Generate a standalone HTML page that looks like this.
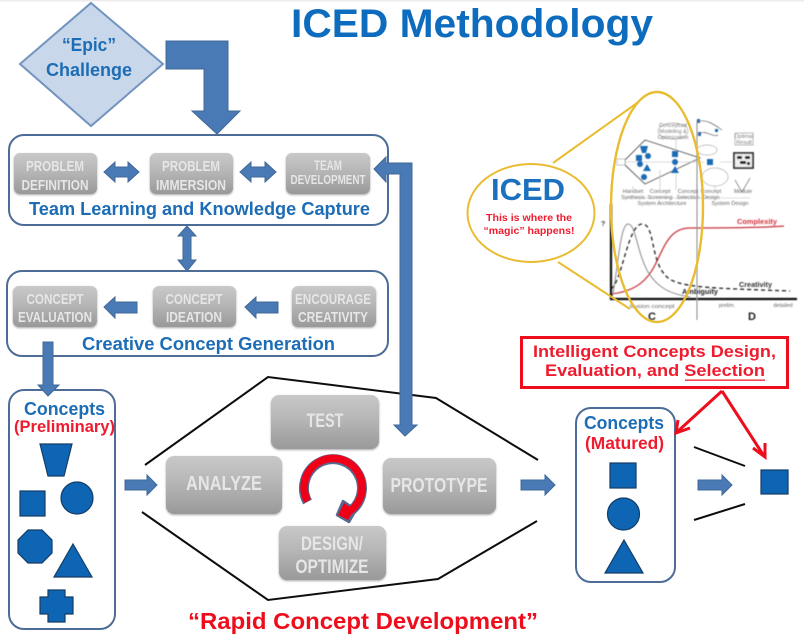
<!DOCTYPE html>
<html><head><meta charset="utf-8"><title>ICED Methodology</title>
<style>
html,body{margin:0;padding:0;background:#fff}
svg{display:block;width:804px;height:639px}
text{font-family:"Liberation Sans",sans-serif;font-weight:700}
.b{fill:#1f6db5}
.r{fill:#ee1c2e}
.g{fill:#e6e6e6;font-weight:700;text-anchor:middle}
.s{fill:#0f65b4;stroke:#123c66;stroke-width:1.2}
.box{fill:#fff;stroke:#4d6d98;stroke-width:2}
.ar{fill:#4a7ab5;stroke:#3f6797;stroke-width:1}
.bl{fill:none;stroke:#111;stroke-width:2}
.t{font-size:5.5px;font-weight:400;fill:#666;text-anchor:middle}
.rl{fill:none;stroke:#ee0f1f;stroke-width:3}
</style></head><body>
<svg xmlns="http://www.w3.org/2000/svg" viewBox="0 0 804 639" width="804" height="639">
<defs>
<linearGradient id="gr" x1="0" y1="0" x2="0" y2="1"><stop offset="0" stop-color="#c8c8c8"/><stop offset=".45" stop-color="#b6b6b6"/><stop offset="1" stop-color="#999"/></linearGradient>
<filter id="sh" x="-10%" y="-10%" width="120%" height="125%"><feGaussianBlur in="SourceAlpha" stdDeviation="1"/><feOffset dy="1"/><feComponentTransfer><feFuncA type="linear" slope=".35"/></feComponentTransfer><feMerge><feMergeNode/><feMergeNode in="SourceGraphic"/></feMerge></filter>
<filter id="bl"><feGaussianBlur stdDeviation=".55"/></filter>
<filter id="bl2"><feGaussianBlur stdDeviation=".3"/></filter>
</defs>
<rect width="804" height="639" fill="#fff"/>
<rect width="804" height="1.5" fill="#ececec"/>
<g filter="url(#bl2)">
<text x="291" y="37" font-size="40" fill="#0f6cbd" textLength="362" lengthAdjust="spacingAndGlyphs">ICED Methodology</text>

<polygon points="91,3 163,64 91,126 20,64" fill="#c9d7ea" stroke="#7394bf" stroke-width="2"/>
<text x="89" y="51" font-size="18" class="b" text-anchor="middle" textLength="54" lengthAdjust="spacingAndGlyphs">“Epic”</text>
<text x="89" y="76" font-size="18" class="b" text-anchor="middle" textLength="86" lengthAdjust="spacingAndGlyphs">Challenge</text>
<polygon class="ar" points="166,41 228,41 228,111 240,111 217,134 192,111 204,111 204,69 166,69"/>

<rect class="box" x="9" y="135" width="379" height="90" rx="15"/>
<rect class="box" x="7" y="271" width="381" height="85" rx="15"/>
<g filter="url(#sh)" fill="url(#gr)">
<rect x="14" y="153" width="83" height="41" rx="6"/><rect x="150" y="153" width="83" height="41" rx="6"/><rect x="286" y="153" width="84" height="41" rx="6"/>
<rect x="13" y="286" width="84" height="41" rx="6"/><rect x="153" y="286" width="83" height="41" rx="6"/><rect x="292" y="286" width="84" height="41" rx="6"/>
<rect x="271" y="395" width="108" height="54" rx="8"/><rect x="166" y="456" width="116" height="58" rx="8"/><rect x="383" y="458" width="113" height="56" rx="8"/><rect x="279" y="526" width="107" height="54" rx="8"/>
</g>
<text class="g" x="55" y="171" font-size="15" textLength="58" lengthAdjust="spacingAndGlyphs">PROBLEM</text>
<text class="g" x="55" y="190" font-size="15" textLength="67" lengthAdjust="spacingAndGlyphs">DEFINITION</text>
<text class="g" x="191" y="171" font-size="15" textLength="58" lengthAdjust="spacingAndGlyphs">PROBLEM</text>
<text class="g" x="191" y="190" font-size="15" textLength="70" lengthAdjust="spacingAndGlyphs">IMMERSION</text>
<text class="g" x="328" y="170" font-size="13.5" textLength="28" lengthAdjust="spacingAndGlyphs">TEAM</text>
<text class="g" x="328" y="184" font-size="12.5" textLength="75" lengthAdjust="spacingAndGlyphs">DEVELOPMENT</text>
<text class="g" x="55" y="304" font-size="15" textLength="57" lengthAdjust="spacingAndGlyphs">CONCEPT</text>
<text class="g" x="55" y="322" font-size="15" textLength="74" lengthAdjust="spacingAndGlyphs">EVALUATION</text>
<text class="g" x="194" y="304" font-size="15" textLength="57" lengthAdjust="spacingAndGlyphs">CONCEPT</text>
<text class="g" x="194" y="322" font-size="15" textLength="56" lengthAdjust="spacingAndGlyphs">IDEATION</text>
<text class="g" x="333" y="304" font-size="15" textLength="76" lengthAdjust="spacingAndGlyphs">ENCOURAGE</text>
<text class="g" x="333" y="322" font-size="15" textLength="70" lengthAdjust="spacingAndGlyphs">CREATIVITY</text>
<text class="g" x="325" y="427" font-size="19" textLength="37" lengthAdjust="spacingAndGlyphs">TEST</text>
<text class="g" x="224" y="490" font-size="20.5" textLength="76" lengthAdjust="spacingAndGlyphs">ANALYZE</text>
<text class="g" x="439" y="492" font-size="20" textLength="97" lengthAdjust="spacingAndGlyphs">PROTOTYPE</text>
<text class="g" x="332" y="550" font-size="19" textLength="62" lengthAdjust="spacingAndGlyphs">DESIGN/</text>
<text class="g" x="332" y="573" font-size="19" textLength="73" lengthAdjust="spacingAndGlyphs">OPTIMIZE</text>

<polygon class="ar" points="104,172 115,162 115,167 128,167 128,162 139,172 128,182 128,177 115,177 115,182"/>
<polygon class="ar" points="240,172 251,162 251,167 265,167 265,162 276,172 265,182 265,177 251,177 251,182"/>
<text x="29" y="215" font-size="18" class="b" textLength="341" lengthAdjust="spacingAndGlyphs">Team Learning and Knowledge Capture</text>

<polygon class="ar" points="187,226 196,236 191,236 191,260 196,260 187,271 178,260 183,260 183,236 178,236"/>

<polygon class="ar" points="104,307 115,297 115,302 137,302 137,313 115,313 115,318"/>
<polygon class="ar" points="245,307 256,297 256,302 278,302 278,313 256,313 256,318"/>
<text x="82" y="350" font-size="18" class="b" textLength="253" lengthAdjust="spacingAndGlyphs">Creative Concept Generation</text>

<rect class="box" x="9" y="390" width="106" height="239" rx="15"/>
<polygon class="ar" points="43,342 53,342 53,385 59,385 48,396 38,385 43,385"/>
<text x="24" y="415" font-size="18" class="b" textLength="81" lengthAdjust="spacingAndGlyphs">Concepts</text>
<text x="14" y="432" font-size="16.5" class="r" textLength="101" lengthAdjust="spacingAndGlyphs">(Preliminary)</text>
<polygon class="s" points="40,444 72,444 64,476 48,476"/>
<rect class="s" x="20" y="491" width="25" height="25"/>
<circle class="s" cx="77" cy="498" r="16"/>
<polygon class="s" points="28,530 42,530 52,540 52,553 42,563 28,563 18,553 18,540"/>
<polygon class="s" points="73,544 92,577 54,577"/>
<polygon class="s" points="48,590 65,590 65,597 73,597 73,614 65,614 65,622 48,622 48,614 40,614 40,597 48,597"/>

<polygon class="ar" points="125,480 147,480 147,475 157,485 147,495 147,490 125,490"/>

<polyline class="bl" points="145,465 268,377 436,398 538,460"/>
<polyline class="bl" points="142,512 268,600 438,579 537,521"/>

<path d="M307.5,502 A29,29 0 1 1 352,510" fill="none" stroke="#56698e" stroke-width="10"/>
<polygon points="337,515 343,501 356,510 349,522" fill="#56698e" stroke="#56698e" stroke-width="2.5" stroke-linejoin="round"/>
<path d="M307.5,501 A29,29 0 1 1 350,511" fill="none" stroke="#f00018" stroke-width="7.5"/>
<polygon points="338,515 344,503 354,510 348,520" fill="#f00018"/>

<polygon class="ar" points="374,169 386,157 386,163 412,163 412,425 417,425 405,436 394,425 400,425 400,174 386,174 386,182"/>

<polygon class="ar" points="521,480 545,480 545,475 555,485 545,495 545,490 521,490"/>
<rect class="box" x="576" y="408" width="99" height="174" rx="15"/>
<text x="584" y="429" font-size="18" class="b" textLength="80" lengthAdjust="spacingAndGlyphs">Concepts</text>
<text x="585" y="449" font-size="17.5" class="r" textLength="79" lengthAdjust="spacingAndGlyphs">(Matured)</text>
<rect class="s" x="610" y="463" width="26" height="25"/>
<circle class="s" cx="623.5" cy="514" r="16"/>
<polygon class="s" points="624,540 643,573 605,573"/>
<polygon class="ar" points="698,480 722,480 722,475 732,485 722,495 722,490 698,490"/>
<line class="bl" x1="694" y1="447" x2="745" y2="466"/>
<line class="bl" x1="694" y1="520" x2="745" y2="504"/>
<rect class="s" x="761" y="470" width="27" height="24"/>

<rect x="521.5" y="337.5" width="266" height="50" fill="#fff" stroke="#ee0f1f" stroke-width="3"/>
<text x="533" y="357" font-size="16.5" class="r" textLength="243" lengthAdjust="spacingAndGlyphs">Intelligent Concepts Design,</text>
<text x="545" y="376" font-size="16.5" class="r" textLength="220" lengthAdjust="spacingAndGlyphs">Evaluation, and Selection</text>
<rect x="685" y="379.5" width="80" height="1.3" fill="#ee1c2e"/>
<polyline class="rl" points="722,391 677,432"/>
<polyline class="rl" points="678,420 676,433 690,428"/>
<polyline class="rl" points="722,391 764,456"/>
<polyline class="rl" points="753,448 765,457 765,443"/>

<text x="188" y="629" font-size="23" fill="#ee0f1f" textLength="350" lengthAdjust="spacingAndGlyphs">“Rapid Concept Development”</text>
</g>

<!-- inset figure -->
<g filter="url(#bl)">
<polygon points="625,160 645,140 700,158 645,184 625,165" fill="none" stroke="#555" stroke-width=".9"/>
<path d="M618,162H704M633,186V190M660,170V190M676,135V190M715,170V190M720,162H735M625,198H750" fill="none" stroke="#bbb" stroke-width=".6"/>
<rect x="617" y="159" width="8" height="6" fill="#fff" stroke="#999" stroke-width=".6"/>
<g fill="#1c6cb5">
<polygon points="640,146 648,146 646,153 642,153"/><rect x="636" y="155" width="6" height="6"/><circle cx="648" cy="156" r="3"/><circle cx="640" cy="164" r="3"/><polygon points="647,164 651,171 643,171"/><circle cx="644" cy="177" r="3"/>
<rect x="672" y="151" width="6" height="6"/><circle cx="675" cy="162" r="3"/><polygon points="675,166 679,173 671,173"/>
<rect x="707" y="159" width="6" height="6"/>
<rect x="697" y="119" width="3" height="4"/><rect x="715" y="129" width="3" height="3"/><rect x="698" y="132" width="3" height="4"/>
</g>
<rect x="734" y="153" width="19" height="15" fill="#eee" stroke="#333" stroke-width="1.8"/>
<g fill="#222"><rect x="737" y="156" width="5" height="3"/><rect x="745" y="156" width="5" height="3"/><rect x="740" y="161" width="6" height="3"/><rect x="747" y="162" width="3" height="3"/></g>
<rect x="735" y="133" width="18" height="12" fill="#fff" stroke="#999" stroke-width=".7"/>
<ellipse cx="673" cy="131" rx="15" ry="8" fill="#fff" stroke="#aaa" stroke-width=".7"/>
<ellipse cx="707" cy="150" rx="10" ry="5" fill="#fff" stroke="#aaa" stroke-width=".7"/>
<ellipse cx="715" cy="177" rx="13" ry="9" fill="#fff" stroke="#aaa" stroke-width=".7"/>
<path d="M698,122C705,118 715,125 722,130M698,135C705,128 712,138 718,135M735,180L742,192L750,178" fill="none" stroke="#666" stroke-width=".7"/>
<text class="t" x="633" y="193">Handset</text><text class="t" x="633" y="199">Synthesis</text>
<text class="t" x="660" y="193">Concept</text><text class="t" x="660" y="199">Screening</text>
<text class="t" x="688" y="193">Concept</text><text class="t" x="688" y="199">Selection</text>
<text class="t" x="711" y="193">Concept</text><text class="t" x="711" y="199">Design</text>
<text class="t" x="662" y="205">System Architecture</text><text class="t" x="730" y="205">System Design</text>
<text class="t" x="743" y="193">Module</text>
<text class="t" x="673" y="127">Conceptual</text><text class="t" x="673" y="133">Modeling &amp;</text><text class="t" x="673" y="139">Optimization</text>
<text class="t" x="744" y="138">Optimal</text><text class="t" x="744" y="144">Result</text>

<path d="M611,294C630,292 645,285 655,265C665,245 670,228 690,228C720,228 760,228 784,226" fill="none" stroke="#c8343f" stroke-width="1.3"/>
<path d="M612,298C618,270 620,224 628,224C636,224 636,250 648,272C658,288 670,294 690,297" fill="none" stroke="#888" stroke-width="1"/>
<path d="M611,289C622,282 628,224 642,224C655,224 650,258 665,275C675,288 710,288 790,291" fill="none" stroke="#222" stroke-width="1.3" stroke-dasharray="4 3"/>
<path d="M611,204V299H797" fill="none" stroke="#111" stroke-width="2.2"/>
<line x1="697" y1="120" x2="697" y2="320" stroke="#888" stroke-width="1"/>
<text x="737" y="224" font-size="7" fill="#d2303c" textLength="40" lengthAdjust="spacingAndGlyphs">Complexity</text>
<text x="739" y="287" font-size="7" fill="#333" textLength="33" lengthAdjust="spacingAndGlyphs">Creativity</text>
<text x="682" y="294" font-size="7" fill="#222" textLength="36" lengthAdjust="spacingAndGlyphs">Ambiguity</text>
<text class="t" x="652" y="308" textLength="45" lengthAdjust="spacingAndGlyphs">illusion concept</text>
<text class="t" x="727" y="307">prelim.</text><text class="t" x="783" y="307">detailed</text>
<text x="652" y="320" font-size="11" fill="#222" text-anchor="middle">C</text>
<text x="752" y="320" font-size="11" fill="#222" text-anchor="middle">D</text>
<text x="601" y="226" font-size="7" fill="#444">?</text>
</g>
<g filter="url(#bl2)">
<ellipse cx="657" cy="207" rx="46" ry="115" fill="none" stroke="#e9bc30" stroke-width="2.4"/>
<line x1="553" y1="163" x2="637" y2="103" stroke="#e9bc30" stroke-width="2"/>
<line x1="558" y1="262" x2="630" y2="309" stroke="#e9bc30" stroke-width="2"/>
<ellipse cx="531" cy="213" rx="63.5" ry="49" fill="#fff" stroke="#e9bc30" stroke-width="2"/>
<text x="491" y="200" font-size="31" fill="#1a6fbd" textLength="74" lengthAdjust="spacingAndGlyphs">ICED</text>
<text x="529" y="221" font-size="10" class="r" text-anchor="middle" textLength="86" lengthAdjust="spacingAndGlyphs">This is where the</text>
<text x="529" y="234" font-size="10" class="r" text-anchor="middle" textLength="91" lengthAdjust="spacingAndGlyphs">“magic” happens!</text>
</g>
</svg>
</body></html>
